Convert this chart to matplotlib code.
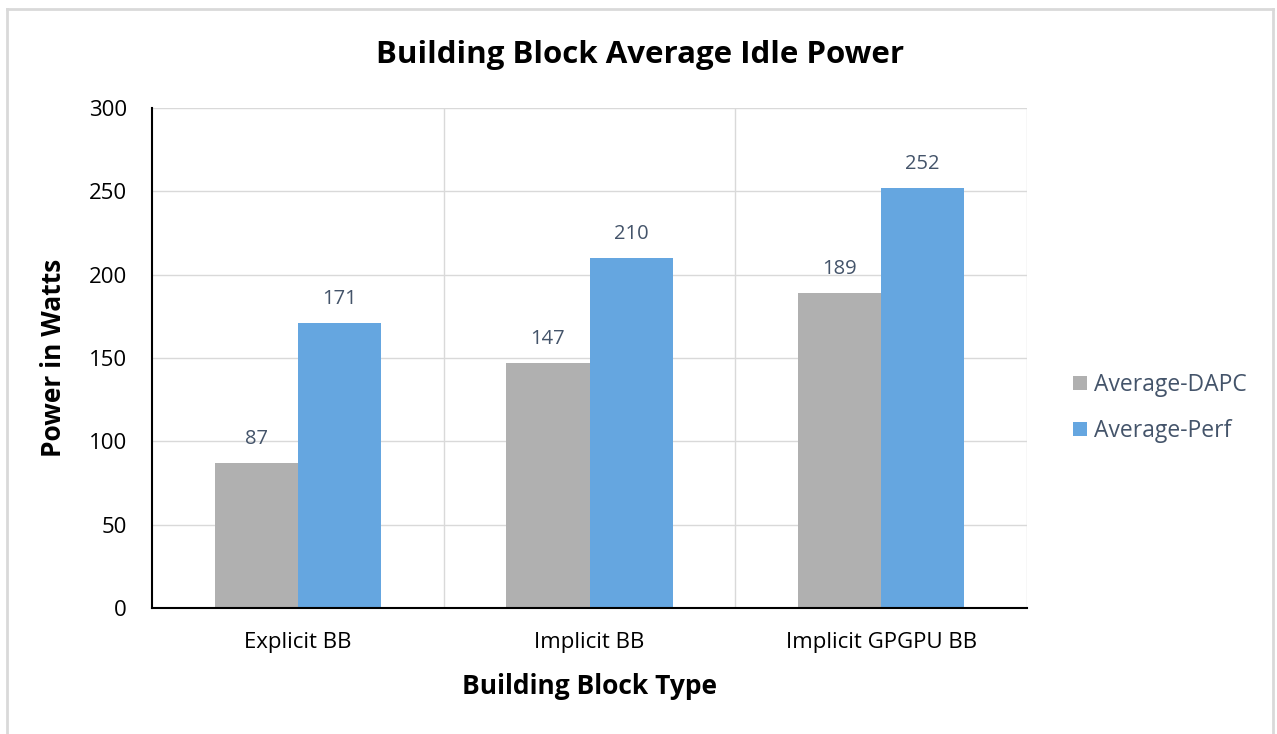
import matplotlib.pyplot as plt
import numpy as np
from matplotlib.lines import Line2D

# Данные: средняя мощность простоя по типам блоков
categories = ['Explicit BB', 'Implicit BB', 'Implicit GPGPU BB']
dapc = [87, 147, 189]
perf = [171, 210, 252]
series_names = ['Average-DAPC', 'Average-Perf']
yticks = [0, 50, 100, 150, 200, 250, 300]

plt.rcParams['font.family'] = ['Open Sans', 'DejaVu Sans']

W, H = 1277, 734
fig = plt.figure(figsize=(W / 100, H / 100), dpi=100)
ax = fig.add_axes([152 / W, 1 - 608 / H, (1027 - 152) / W, 500 / H])

x = np.arange(len(categories))
width = 0.285
gray = '#B0B0B0'
blue = '#65A6E0'
label_color = '#44546A'

b1 = ax.bar(x - width / 2, dapc, width, color=gray, label=series_names[0], zorder=3)
b2 = ax.bar(x + width / 2, perf, width, color=blue, label=series_names[1], zorder=3)

# подписи значений над столбцами
for bars in (b1, b2):
    for rect in bars:
        h = rect.get_height()
        ax.text(rect.get_x() + rect.get_width() / 2, h + 14.5, f'{h:.0f}',
                ha='center', va='center', fontsize=14.5, color=label_color)

ax.set_xlim(-0.5, len(categories) - 0.5)
ax.set_ylim(0, 300)
ax.set_yticks(yticks)
ax.set_xticks(x)
ax.set_xticklabels(categories)
ax.tick_params(axis='both', length=0, labelsize=16)
ax.tick_params(axis='x', pad=17)
ax.tick_params(axis='y', pad=18)

# сетка: горизонтальные линии и границы категорий
for yv in yticks[1:]:
    ax.axhline(yv, color='#D9D9D9', lw=1, zorder=1)
for xv in np.arange(0.5, len(categories), 1.0):
    ax.axvline(xv, color='#D9D9D9', lw=1, zorder=1)

for s in ['top', 'right']:
    ax.spines[s].set_visible(False)
ax.spines['left'].set_linewidth(1.5)
ax.spines['bottom'].set_linewidth(1.5)
ax.spines['left'].set_zorder(4)
ax.spines['bottom'].set_zorder(4)

ax.set_ylabel('Power in Watts', fontsize=19, fontweight='bold', labelpad=16)
ax.set_xlabel('Building Block Type', fontsize=19, fontweight='bold', labelpad=15)
fig.text((378 + 902) / 2 / W, 1 - 55 / H, 'Building Block Average Idle Power',
         ha='center', va='center', fontsize=22.5, fontweight='bold')

leg = ax.legend(loc='center left', bbox_to_anchor=(1.04, 0.4), frameon=False,
                fontsize=16.5, handlelength=0.6, handleheight=0.6,
                handletextpad=0.3, labelspacing=0.95, borderpad=0)
for t in leg.get_texts():
    t.set_color(label_color)

# рамка вокруг всей диаграммы
fig.add_artist(Line2D([7 / W, 7 / W], [0, 1 - 9 / H], transform=fig.transFigure,
                      color='#D9D9D9', lw=2))
fig.add_artist(Line2D([7 / W, 1273 / W], [1 - 9 / H, 1 - 9 / H], transform=fig.transFigure,
                      color='#D9D9D9', lw=2))
fig.add_artist(Line2D([1273 / W, 1273 / W], [0, 1 - 9 / H], transform=fig.transFigure,
                      color='#D9D9D9', lw=2))

fig.savefig('out.png', dpi=100)
